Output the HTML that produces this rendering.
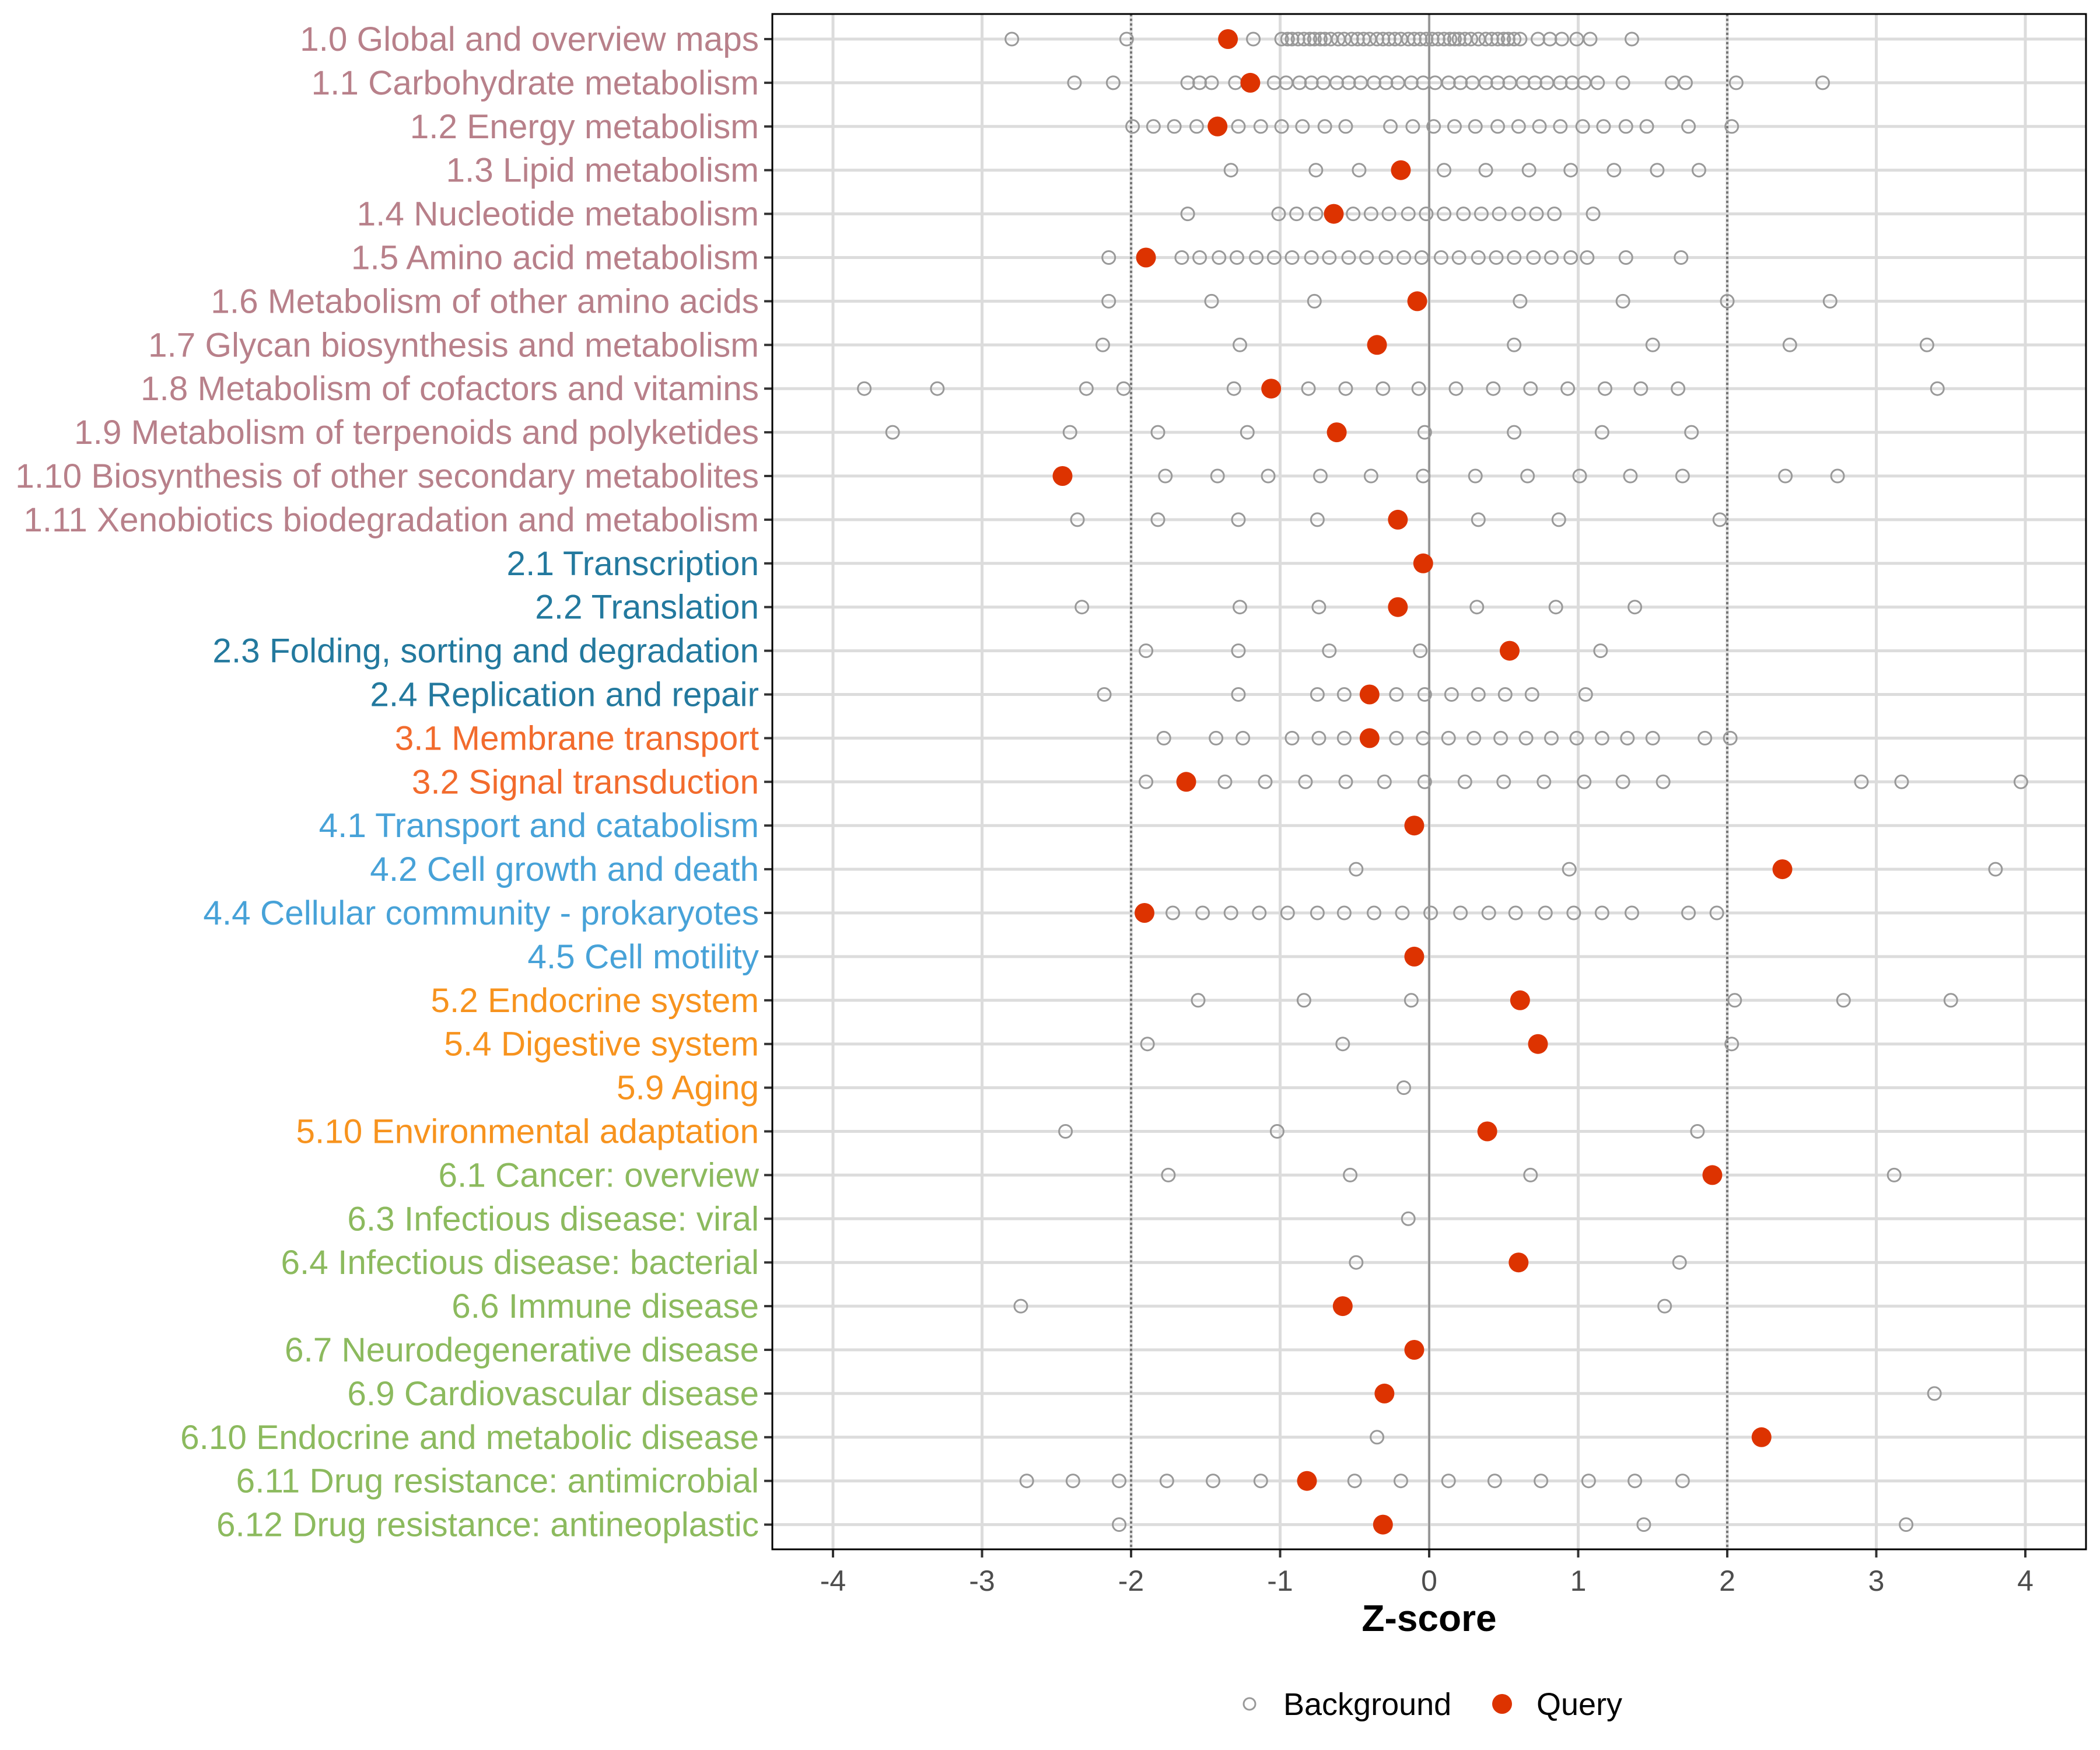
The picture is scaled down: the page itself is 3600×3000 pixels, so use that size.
<!DOCTYPE html>
<html><head><meta charset="utf-8"><style>
html,body{margin:0;padding:0;background:#fff;}
svg{display:block;font-family:"Liberation Sans",sans-serif;}
</style></head><body>
<svg id="chart" width="3600" height="3000" viewBox="0 0 3600 3000" xmlns="http://www.w3.org/2000/svg">
<rect x="0" y="0" width="3600" height="3000" fill="#fff"/>
<g id="grid"></g>
<g id="points"></g>
<g id="yaxis"></g>
<g id="xaxis"></g>
<text x="2450" y="2796" text-anchor="middle" font-size="64" font-weight="bold" fill="#000">Z-score</text>
<g>
<circle cx="2142" cy="2921" r="10" fill="none" stroke="#999" stroke-width="3"/>
<text x="2200" y="2940" font-size="54" fill="#000">Background</text>
<circle cx="2575" cy="2921" r="17" fill="#dd3300"/>
<text x="2634" y="2940" font-size="54" fill="#000">Query</text>
</g>
</svg>
<script>
const categories = ["1.0 Global and overview maps","1.1 Carbohydrate metabolism","1.2 Energy metabolism","1.3 Lipid metabolism","1.4 Nucleotide metabolism","1.5 Amino acid metabolism","1.6 Metabolism of other amino acids","1.7 Glycan biosynthesis and metabolism","1.8 Metabolism of cofactors and vitamins","1.9 Metabolism of terpenoids and polyketides","1.10 Biosynthesis of other secondary metabolites","1.11 Xenobiotics biodegradation and metabolism","2.1 Transcription","2.2 Translation","2.3 Folding, sorting and degradation","2.4 Replication and repair","3.1 Membrane transport","3.2 Signal transduction","4.1 Transport and catabolism","4.2 Cell growth and death","4.4 Cellular community - prokaryotes","4.5 Cell motility","5.2 Endocrine system","5.4 Digestive system","5.9 Aging","5.10 Environmental adaptation","6.1 Cancer: overview","6.3 Infectious disease: viral","6.4 Infectious disease: bacterial","6.6 Immune disease","6.7 Neurodegenerative disease","6.9 Cardiovascular disease","6.10 Endocrine and metabolic disease","6.11 Drug resistance: antimicrobial","6.12 Drug resistance: antineoplastic"];
const groups = ["1","1","1","1","1","1","1","1","1","1","1","1","2","2","2","2","3","3","4","4","4","4","5","5","5","5","6","6","6","6","6","6","6","6","6"];
const queryValues = [-1.35,-1.2,-1.42,-0.19,-0.64,-1.9,-0.08,-0.35,-1.06,-0.62,-2.46,-0.21,-0.04,-0.21,0.54,-0.4,-0.4,-1.63,-0.1,2.37,-1.91,-0.1,0.61,0.73,null,0.39,1.9,null,0.6,-0.58,-0.1,-0.3,2.23,-0.82,-0.31];
const backgroundValues = [
[-2.8,-2.03,-1.18,-0.99,-0.95,-0.92,-0.88,-0.84,-0.8,-0.77,-0.73,-0.7,-0.66,-0.61,-0.57,-0.52,-0.48,-0.44,-0.4,-0.35,-0.31,-0.27,-0.23,-0.19,-0.14,-0.1,-0.06,-0.02,0.02,0.06,0.1,0.14,0.17,0.2,0.24,0.28,0.33,0.38,0.42,0.46,0.5,0.53,0.57,0.61,0.73,0.81,0.89,0.99,1.08,1.36],
[-2.38,-2.12,-1.62,-1.54,-1.46,-1.3,-1.04,-0.96,-0.87,-0.79,-0.71,-0.62,-0.54,-0.46,-0.37,-0.29,-0.21,-0.12,-0.04,0.04,0.13,0.21,0.29,0.38,0.46,0.54,0.63,0.71,0.79,0.88,0.96,1.04,1.13,1.3,1.63,1.72,2.06,2.64],
[-1.99,-1.85,-1.71,-1.56,-1.28,-1.13,-0.99,-0.85,-0.7,-0.56,-0.26,-0.11,0.03,0.17,0.31,0.46,0.6,0.74,0.88,1.03,1.17,1.32,1.46,1.74,2.03],
[-1.33,-0.76,-0.47,0.1,0.38,0.67,0.95,1.24,1.53,1.81],
[-1.62,-1.01,-0.89,-0.76,-0.51,-0.39,-0.27,-0.14,-0.02,0.1,0.23,0.35,0.47,0.6,0.72,0.84,1.1],
[-2.15,-1.66,-1.54,-1.41,-1.29,-1.16,-1.04,-0.92,-0.79,-0.67,-0.54,-0.42,-0.29,-0.17,-0.05,0.08,0.2,0.33,0.45,0.57,0.7,0.82,0.95,1.06,1.32,1.69],
[-2.15,-1.46,-0.77,0.61,1.3,2.0,2.69],
[-2.19,-1.27,0.57,1.5,2.42,3.34],
[-3.79,-3.3,-2.3,-2.05,-1.31,-0.81,-0.56,-0.31,-0.07,0.18,0.43,0.68,0.93,1.18,1.42,1.67,3.41],
[-3.6,-2.41,-1.82,-1.22,-0.03,0.57,1.16,1.76],
[-1.77,-1.42,-1.08,-0.73,-0.39,-0.04,0.31,0.66,1.01,1.35,1.7,2.39,2.74],
[-2.36,-1.82,-1.28,-0.75,0.33,0.87,1.95],
[],
[-2.33,-1.27,-0.74,0.32,0.85,1.38],
[-1.9,-1.28,-0.67,-0.06,1.15],
[-2.18,-1.28,-0.75,-0.57,-0.22,-0.03,0.15,0.33,0.51,0.69,1.05],
[-1.78,-1.43,-1.25,-0.92,-0.74,-0.57,-0.22,-0.04,0.13,0.3,0.48,0.65,0.82,0.99,1.16,1.33,1.5,1.85,2.02],
[-1.9,-1.37,-1.1,-0.83,-0.56,-0.3,-0.03,0.24,0.5,0.77,1.04,1.3,1.57,2.9,3.17,3.97],
[],
[-0.49,0.94,3.8],
[-1.72,-1.52,-1.33,-1.14,-0.95,-0.75,-0.57,-0.37,-0.18,0.01,0.21,0.4,0.58,0.78,0.97,1.16,1.36,1.74,1.93],
[],
[-1.55,-0.84,-0.12,2.05,2.78,3.5],
[-1.89,-0.58,2.03],
[-0.17],
[-2.44,-1.02,1.8],
[-1.75,-0.53,0.68,3.12],
[-0.14],
[-0.49,1.68],
[-2.74,1.58],
[],
[3.39],
[-0.35],
[-2.7,-2.39,-2.08,-1.76,-1.45,-1.13,-0.5,-0.19,0.13,0.44,0.75,1.07,1.38,1.7],
[-2.08,1.44,3.2]
];
const xTicks = [-4,-3,-2,-1,0,1,2,3,4];
const xTickLabels = ["-4","-3","-2","-1","0","1","2","3","4"];
const thresholds = [-2,2];

const groupColor = {"1":"#b8808a","2":"#23799e","3":"#f26b2d","4":"#47a2d8","5":"#f7931e","6":"#8cba5e"};
const NS = "http://www.w3.org/2000/svg";
const PL = 1324, PR = 3576, PT = 24, PB = 2656;
const X0 = 2450, XU = 255.5;
const Y0 = 67, YS = 74.9;
function xs(v){ return X0 + v*XU; }
function ys(i){ return Y0 + i*YS; }
function mk(tag, attrs, parent){ const e=document.createElementNS(NS,tag); for(const k in attrs) e.setAttribute(k,attrs[k]); parent.appendChild(e); return e; }

const grid = document.getElementById('grid');
const pts = document.getElementById('points');
const yax = document.getElementById('yaxis');
const xax = document.getElementById('xaxis');

xTicks.forEach((t,i)=>{
  const l = mk('line',{x1:xs(t),x2:xs(t),y1:PT,y2:PB,stroke:'#dcdcdc','stroke-width':5},grid);
  
  
  const tk = mk('line',{x1:xs(t),x2:xs(t),y1:PB,y2:PB+14,stroke:'#333','stroke-width':4},xax);
  
  
  const tx = mk('text',{x:xs(t),y:2727,'text-anchor':'middle','font-size':50,fill:'#4d4d4d'},xax);
  tx.textContent = xTickLabels[i];
  
  
});
categories.forEach((c,i)=>{
  const l = mk('line',{x1:PL,x2:PR,y1:ys(i),y2:ys(i),stroke:'#dcdcdc','stroke-width':5},grid);
  
  
});
const z = mk('line',{x1:xs(0),x2:xs(0),y1:PT,y2:PB,stroke:'#8a8a8a','stroke-width':3},grid);


thresholds.forEach(t=>{
  const d = mk('line',{x1:xs(t),x2:xs(t),y1:PT,y2:PB,stroke:'#777','stroke-width':4,'stroke-dasharray':'4,4'},grid);
  
  
});

categories.forEach((c,i)=>{
  backgroundValues[i].forEach(v=>{
    const p = mk('circle',{cx:xs(v),cy:ys(i),r:11,fill:'none',stroke:'#999','stroke-width':3},pts);
    
    
  });
});
categories.forEach((c,i)=>{
  if(queryValues[i]===null) return;
  const p = mk('circle',{cx:xs(queryValues[i]),cy:ys(i),r:17,fill:'#dd3300'},pts);
  
  
});

categories.forEach((c,i)=>{
  const tk = mk('line',{x1:PL-14,x2:PL,y1:ys(i),y2:ys(i),stroke:'#333','stroke-width':4},yax);
  
  
  const t = mk('text',{x:1301,y:ys(i)+20,'text-anchor':'end','font-size':58.5,fill:groupColor[groups[i]]},yax);
  t.textContent = c;
  
  
});

const frame = mk('rect',{x:PL,y:PT,width:PR-PL,height:PB-PT,fill:'none',stroke:'#000','stroke-width':3},document.getElementById('chart'));


</script>
</body></html>
